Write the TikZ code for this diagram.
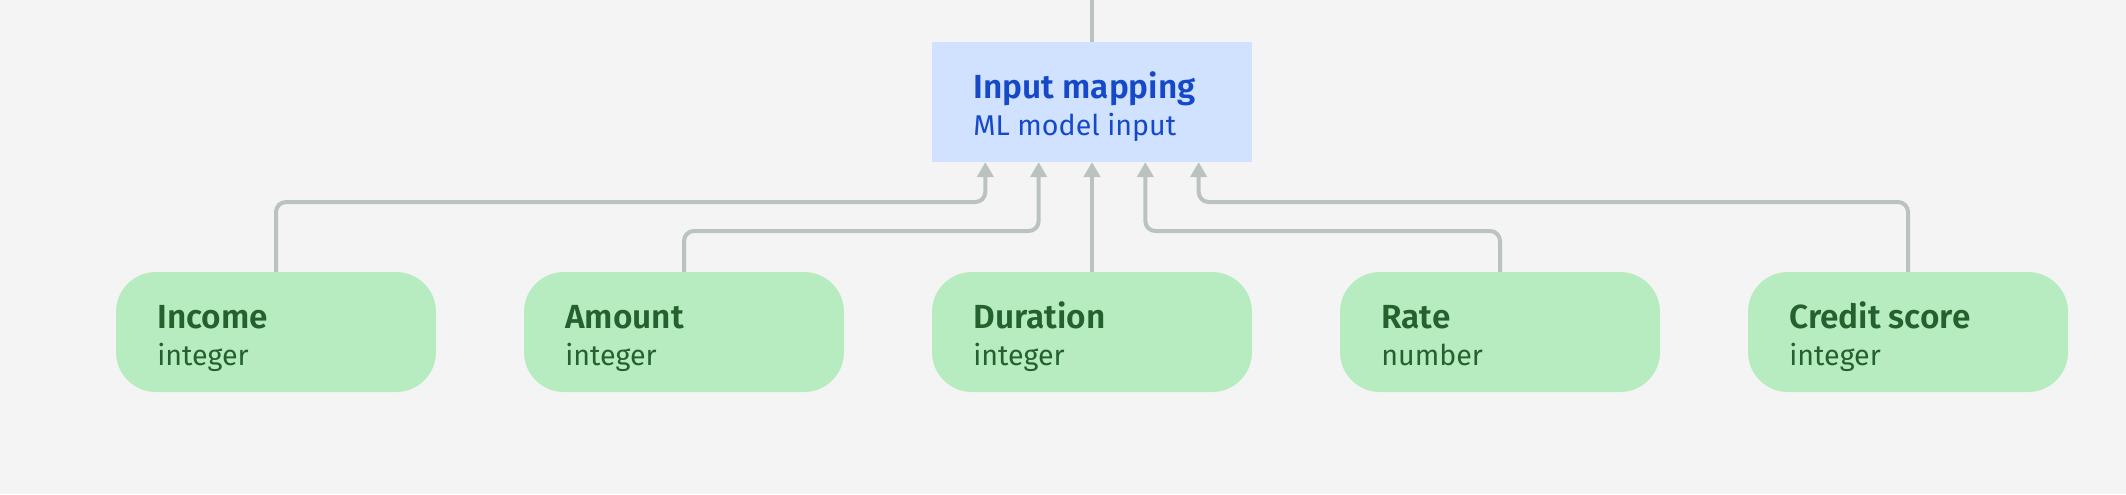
\documentclass[tikz,border=0pt]{standalone}
\usepackage{fontspec}
\setmainfont{Fira Sans}[BoldFont={Fira Sans SemiBold}]
\usetikzlibrary{arrows.meta,calc}
\definecolor{bg}{HTML}{F4F4F4}
\definecolor{bluefill}{HTML}{D0E2FF}
\definecolor{bluetext}{HTML}{1549C8}
\definecolor{greenfill}{HTML}{B7ECC0}
\definecolor{greentext}{HTML}{24612F}
\definecolor{linecol}{HTML}{BAC3C0}
\tikzset{
  box/.style={minimum width=160pt, minimum height=60pt, inner sep=0pt, outer sep=0pt},
  mapbox/.style={box, fill=bluefill},
  fieldbox/.style={box, fill=greenfill, rounded corners=20pt},
  titletext/.style={anchor=base west, inner sep=0pt, font=\fontsize{16.7pt}{18pt}\selectfont\bfseries},
  subtext/.style={anchor=base west, inner sep=0pt, font=\fontsize{14.3pt}{18pt}\selectfont},
  conn/.style={draw=linecol, line width=2pt, rounded corners=5pt},
  arr/.style={conn, -{Triangle[width=8pt,length=7.5pt]}},
}
\begin{document}
\begin{tikzpicture}[x=0.5pt,y=-0.5pt]
\fill[bg] (0,0) rectangle (2126,494);
\useasboundingbox (0,0) rectangle (2126,494);

\node[mapbox] (map) at (1092,102) {};
\node[titletext, text=bluetext] (mapt) at ($(map.north west)+(41,56.3)$) {Input mapping};
\node[subtext, text=bluetext] (maps) at ($(map.north west)+(41,93)$) {ML model input};

\foreach \n/\x/\t/\s in {income/276/Income/integer, amount/684/Amount/integer, duration/1092/Duration/integer, rate/1500/Rate/number, credit/1908/Credit score/integer}{
  \node[fieldbox] (\n) at (\x,332) {};
  \node[titletext, text=greentext] (\n-t) at ($(\n.north west)+(41,56)$) {\t};
  \node[subtext, text=greentext] (\n-s) at ($(\n.north west)+(41,93)$) {\s};
}

\coordinate (top) at (1092,0);
\coordinate (p1) at ($(map.south)+(-106.67,0)$);
\coordinate (p2) at ($(map.south)+(-53.33,0)$);
\coordinate (p4) at ($(map.south)+(53.33,0)$);
\coordinate (p5) at ($(map.south)+(106.67,0)$);

\draw[conn] (top) -- (map.north);
\draw[arr] (income.north) |- ($(p1)+(0,40)$) -- (p1);
\draw[arr] (amount.north) |- ($(p2)+(0,69)$) -- (p2);
\draw[arr] (duration.north) -- (map.south);
\draw[arr] (rate.north) |- ($(p4)+(0,69)$) -- (p4);
\draw[arr] (credit.north) |- ($(p5)+(0,40)$) -- (p5);
\end{tikzpicture}
\end{document}
